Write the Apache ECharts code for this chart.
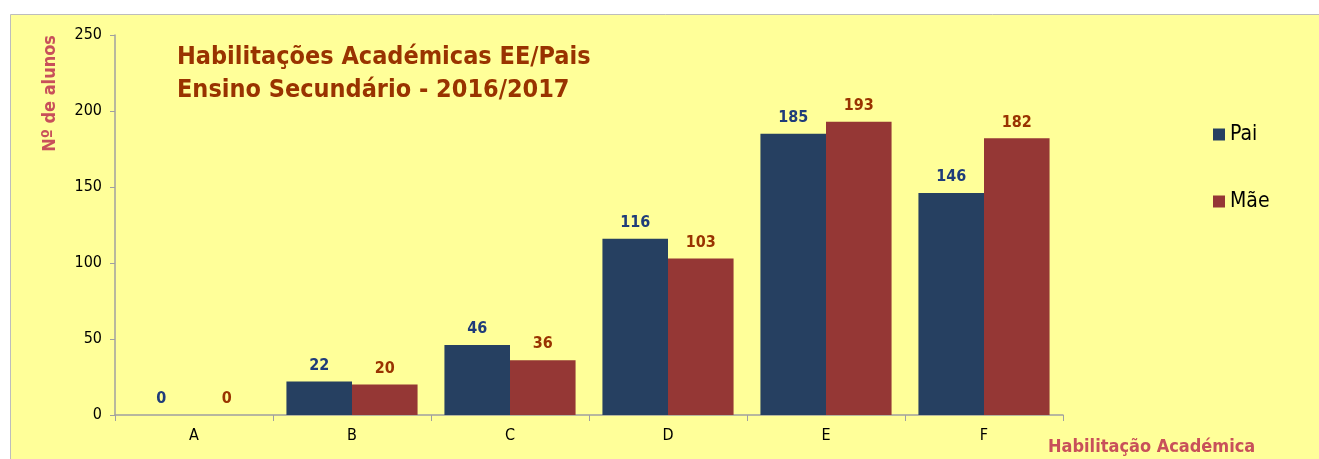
<!DOCTYPE html>
<html>
<head>
<meta charset="utf-8">
<script src="https://cdn.jsdelivr.net/npm/echarts@6/dist/echarts.min.js"></script>
<style>
  html, body { margin: 0; padding: 0; background: #fff; }
  #chart { width: 1319px; height: 459px; }
</style>
</head>
<body>
<div id="chart"></div>
<script>
// dados
const categorias = ['A', 'B', 'C', 'D', 'E', 'F'];
const pai = [0, 22, 46, 116, 185, 146];
const mae = [0, 20, 36, 103, 193, 182];
const yTicks = [0, 50, 100, 150, 200, 250];

const font = 'DejaVu Sans Condensed';

const chart = echarts.init(document.getElementById('chart'));
chart.setOption({
  backgroundColor: '#fff',
  animation: false,
  textStyle: { fontFamily: font },
  graphic: [{
    type: 'rect',
    z: -10,
    silent: true,
    shape: { x: 10.5, y: 14.5, width: 1400, height: 500 },
    style: { fill: '#FFFF99', stroke: '#bdbdbd', lineWidth: 1 },
  }],
  title: {
    text: 'Habilitações Académicas EE/Pais\nEnsino Secundário - 2016/2017',
    left: 172,
    top: 36,
    textStyle: {
      color: '#993300',
      fontSize: 25,
      fontWeight: 'bold',
      lineHeight: 33,
      fontFamily: font,
    },
  },
  legend: {
    orient: 'vertical',
    left: 1208,
    top: 119,
    itemWidth: 12,
    itemHeight: 12,
    itemGap: 46,
    icon: 'rect',
    textStyle: { fontSize: 21, color: '#000', fontFamily: font },
    data: ['Pai', 'Mãe'],
  },
  grid: { left: 115, right: 256, top: 35, bottom: 44 },
  xAxis: {
    type: 'category',
    data: categorias,
    name: 'Habilitação Académica',
    nameLocation: 'end',
    nameGap: 0,
    nameTextStyle: {
      color: '#C8505A',
      fontSize: 18,
      fontWeight: 'bold',
      align: 'left',
      verticalAlign: 'top',
      padding: [23, 0, 0, -15],
    },
    axisLine: { lineStyle: { color: '#a0a0a0', width: 1.5 } },
    axisTick: { show: true, length: 6, lineStyle: { color: '#a0a0a0' } },
    axisLabel: { color: '#000', fontSize: 16, margin: 13 },
  },
  yAxis: {
    type: 'value',
    min: 0,
    max: 250,
    interval: 50,
    name: 'Nº de alunos',
    nameLocation: 'end',
    nameRotate: 90,
    nameGap: 0,
    nameTextStyle: {
      color: '#C8505A',
      fontSize: 18,
      fontWeight: 'bold',
      align: 'right',
      verticalAlign: 'bottom',
      padding: [0, 0, 56, 0],
    },
    splitLine: { show: false },
    axisLine: { show: true, lineStyle: { color: '#a0a0a0', width: 1.5 } },
    axisTick: { show: true, length: 5, lineStyle: { color: '#a0a0a0' } },
    axisLabel: {
      color: '#000',
      fontSize: 16,
      margin: 13,
      formatter: v => (yTicks.indexOf(v) >= 0 ? String(v) : ''),
    },
  },
  series: [{
    name: 'Pai',
    type: 'bar',
    data: pai,
    barGap: '0%',
    barCategoryGap: '17%',
    itemStyle: { color: '#264061' },
    label: {
      show: true,
      position: 'top',
      distance: 8,
      color: '#1F3C7A',
      fontSize: 16,
      fontWeight: 'bold',
    },
  }, {
    name: 'Mãe',
    type: 'bar',
    data: mae,
    itemStyle: { color: '#953735' },
    label: {
      show: true,
      position: 'top',
      distance: 8,
      color: '#993300',
      fontSize: 16,
      fontWeight: 'bold',
    },
  }],
});
</script>
</body>
</html>
